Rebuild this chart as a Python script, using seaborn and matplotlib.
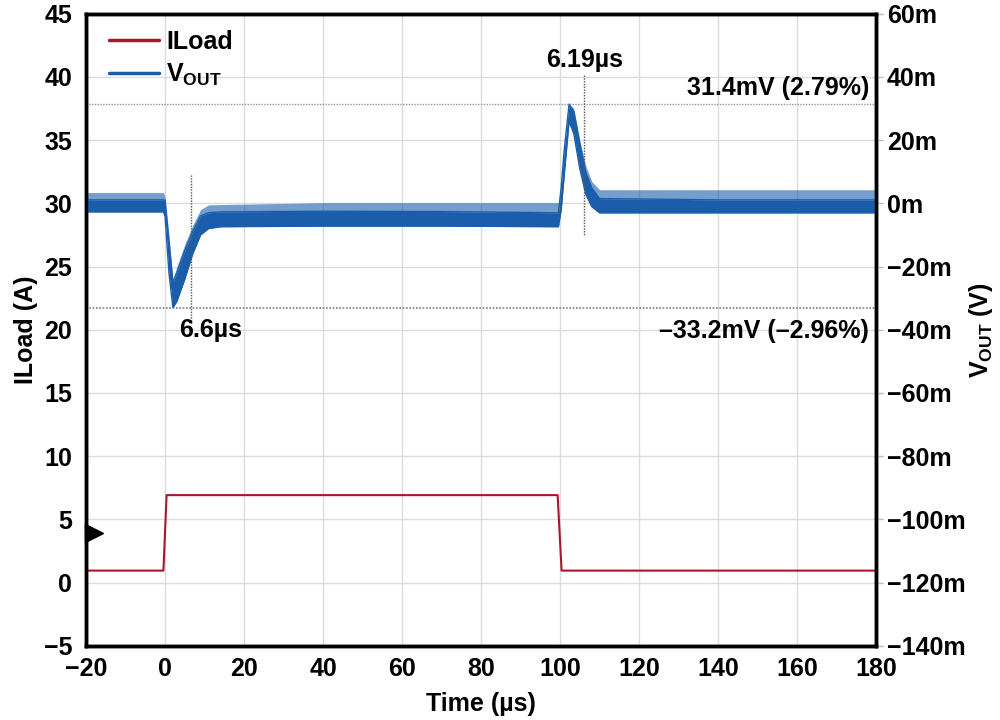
import numpy as np
import pandas as pd
import matplotlib
matplotlib.use("Agg")
import matplotlib.pyplot as plt
import seaborn as sns
from matplotlib.lines import Line2D
from matplotlib.ticker import FuncFormatter

# ---- data ----
iload_t = [-20, -0.4, 0.4, 99.4, 100.4, 180]
iload_a = [0.95, 0.95, 6.92, 6.92, 0.95, 0.95]

vout_t = [-20, -0.4, 0.0, 1.0, 2.0, 3.0, 5.0, 7.0, 9.0, 11.0, 14.0, 40.0, 70.0,
          99.6, 100.3, 101.0, 102.3, 103.5, 105.0, 106.5, 108.0, 110.0, 140.0, 180.0]
vout_core_lo = [-2.7, -2.7, -4.0, -22.0, -33.0, -31.0, -24.0, -16.0, -10.0, -8.0, -7.4, -7.2, -7.2,
                -7.4, -2.0, 8.0, 26.0, 22.0, 11.0, 3.0, -1.0, -3.0, -3.0, -3.0]
vout_core_hi = [1.1, 1.1, 1.0, -12.0, -25.0, -22.0, -15.0, -9.0, -4.0, -3.0, -2.7, -2.5, -2.6,
                -3.0, 5.0, 16.0, 31.4, 29.0, 19.0, 10.0, 5.0, 1.5, 1.1, 1.1]
vout_spike_hi = [3.4, 3.4, 2.0, -10.0, -24.0, -20.0, -13.0, -7.0, -2.0, -0.5, -0.4, 0.2, 0.2,
                 0.2, 6.0, 17.0, 31.4, 30.0, 20.0, 12.0, 7.0, 4.3, 4.3, 4.3]

overshoot_mv = 31.4
undershoot_mv = -33.2
t_recover_1 = 6.6
t_recover_2 = 100 + 6.19

left_ticks = [-5, 0, 5, 10, 15, 20, 25, 30, 35, 40, 45]
x_ticks = [-20, 0, 20, 40, 60, 80, 100, 120, 140, 160, 180]

RED = "#a8182c"
BLUE = "#1a5dab"
FS = 18

sns.set_theme(style="white")
plt.rcParams["font.family"] = ["Liberation Sans", "DejaVu Sans"]
plt.rcParams["font.weight"] = "bold"
plt.rcParams["axes.labelweight"] = "bold"
plt.rcParams["mathtext.fontset"] = "custom"
plt.rcParams["mathtext.rm"] = "Liberation Sans:bold"
plt.rcParams["mathtext.it"] = "Liberation Sans:bold"
plt.rcParams["mathtext.bf"] = "Liberation Sans:bold"
plt.rcParams["axes.unicode_minus"] = True
for k in ("text.color", "axes.labelcolor", "xtick.color", "ytick.color"):
    plt.rcParams[k] = "black"

fig = plt.figure(figsize=(10, 7.2), dpi=100)
ax = fig.add_axes([0.086, 0.103, 0.79, 0.878])
ax2 = ax.twinx()

df_i = pd.DataFrame({"t": iload_t, "i": iload_a})
df_v = pd.DataFrame({"t": vout_t,
                     "lo": np.array(vout_core_lo) / 1000,
                     "hi": np.array(vout_core_hi) / 1000,
                     "sp": np.array(vout_spike_hi) / 1000})

# grid
ax.set_xlim(-20, 180)
ax.set_ylim(-5, 45)
ax.set_xticks(x_ticks)
ax.set_yticks(left_ticks)
ax.grid(True, color="#dcdcdc", linewidth=1.0)
ax.set_axisbelow(True)

# ILoad
sns.lineplot(data=df_i, x="t", y="i", ax=ax, color=RED, linewidth=1.5, legend=False)

# VOUT band
ax2.set_ylim(-0.140, 0.060)
ax2.fill_between(df_v["t"], df_v["hi"], df_v["sp"], color=BLUE, alpha=0.6, linewidth=0)
ax2.fill_between(df_v["t"], df_v["lo"], df_v["hi"], color=BLUE, alpha=1.0, linewidth=0)
sns.lineplot(data=df_v, x="t", y="lo", ax=ax2, color=BLUE, linewidth=1.0, legend=False)
sns.lineplot(data=df_v, x="t", y="hi", ax=ax2, color=BLUE, linewidth=1.0, legend=False)

# reference lines
ax2.axhline(overshoot_mv / 1000, color="#8a98a8", linestyle=(0, (1, 1)), linewidth=1.0)
ax2.axhline(undershoot_mv / 1000, color="#6f7f8f", linestyle=(0, (1, 1)), linewidth=1.2)
ax2.plot([t_recover_1, t_recover_1], [0.009, -0.0385], color="#555555",
         linestyle=(0, (1, 1)), linewidth=1.0)
ax2.plot([t_recover_2, t_recover_2], [0.0405, -0.010], color="#555555",
         linestyle=(0, (1, 1)), linewidth=1.0)

# annotations
ax2.text(11.5, -0.040, "6.6µs", ha="center", va="center", fontsize=FS, fontweight="bold")
ax2.text(106.3, 0.0455, "6.19µs", ha="center", va="center", fontsize=FS, fontweight="bold")
ax2.text(178.3, 0.0365, "31.4mV (2.79%)", ha="right", va="center", fontsize=FS, fontweight="bold")
ax2.text(178.3, -0.0403, "\u201333.2mV (\u20132.96%)", ha="right", va="center", fontsize=FS,
         fontweight="bold")

# trigger marker
ax.plot([-17.9], [3.95], marker=">", markersize=13, color="black", clip_on=False, zorder=5)

# axes styling
ax.set_xlabel("Time (µs)", fontsize=FS, fontweight="bold", labelpad=8)
ax.set_ylabel("ILoad (A)", fontsize=FS, fontweight="bold", labelpad=4)
ax2.set_ylabel(r"V$_{\rm OUT}$ (V)", fontsize=FS, fontweight="bold", labelpad=1)
ax2.set_yticks(np.arange(-0.140, 0.0601, 0.020))
ax2.yaxis.set_major_formatter(FuncFormatter(
    lambda v, p: f"{round(v * 1000):d}m".replace("-", "\u2212")))

for a in (ax, ax2):
    for s in a.spines.values():
        s.set_color("black")
        s.set_linewidth(2.5)
ax.tick_params(axis="x", labelsize=FS, length=0, pad=8)
ax.tick_params(axis="y", labelsize=FS, length=0, pad=10)
ax2.tick_params(axis="y", labelsize=FS, length=5, width=1, color="#bbbbbb", pad=3)
for lbl in ax.get_xticklabels() + ax.get_yticklabels() + ax2.get_yticklabels():
    lbl.set_fontweight("bold")
ax2.set_xlim(-20, 180)

handles = [Line2D([], [], color=RED, linewidth=2.5),
           Line2D([], [], color=BLUE, linewidth=2.5)]
leg = ax2.legend(handles, ["ILoad", r"V$_{\rm OUT}$"], loc="upper left", frameon=False,
                 fontsize=FS, handlelength=2.0, handletextpad=0.3, labelspacing=0.3,
                 borderaxespad=0.0, bbox_to_anchor=(0.016, 0.99))
for t in leg.get_texts():
    t.set_fontweight("bold")

fig.savefig("out.png", dpi=100)
